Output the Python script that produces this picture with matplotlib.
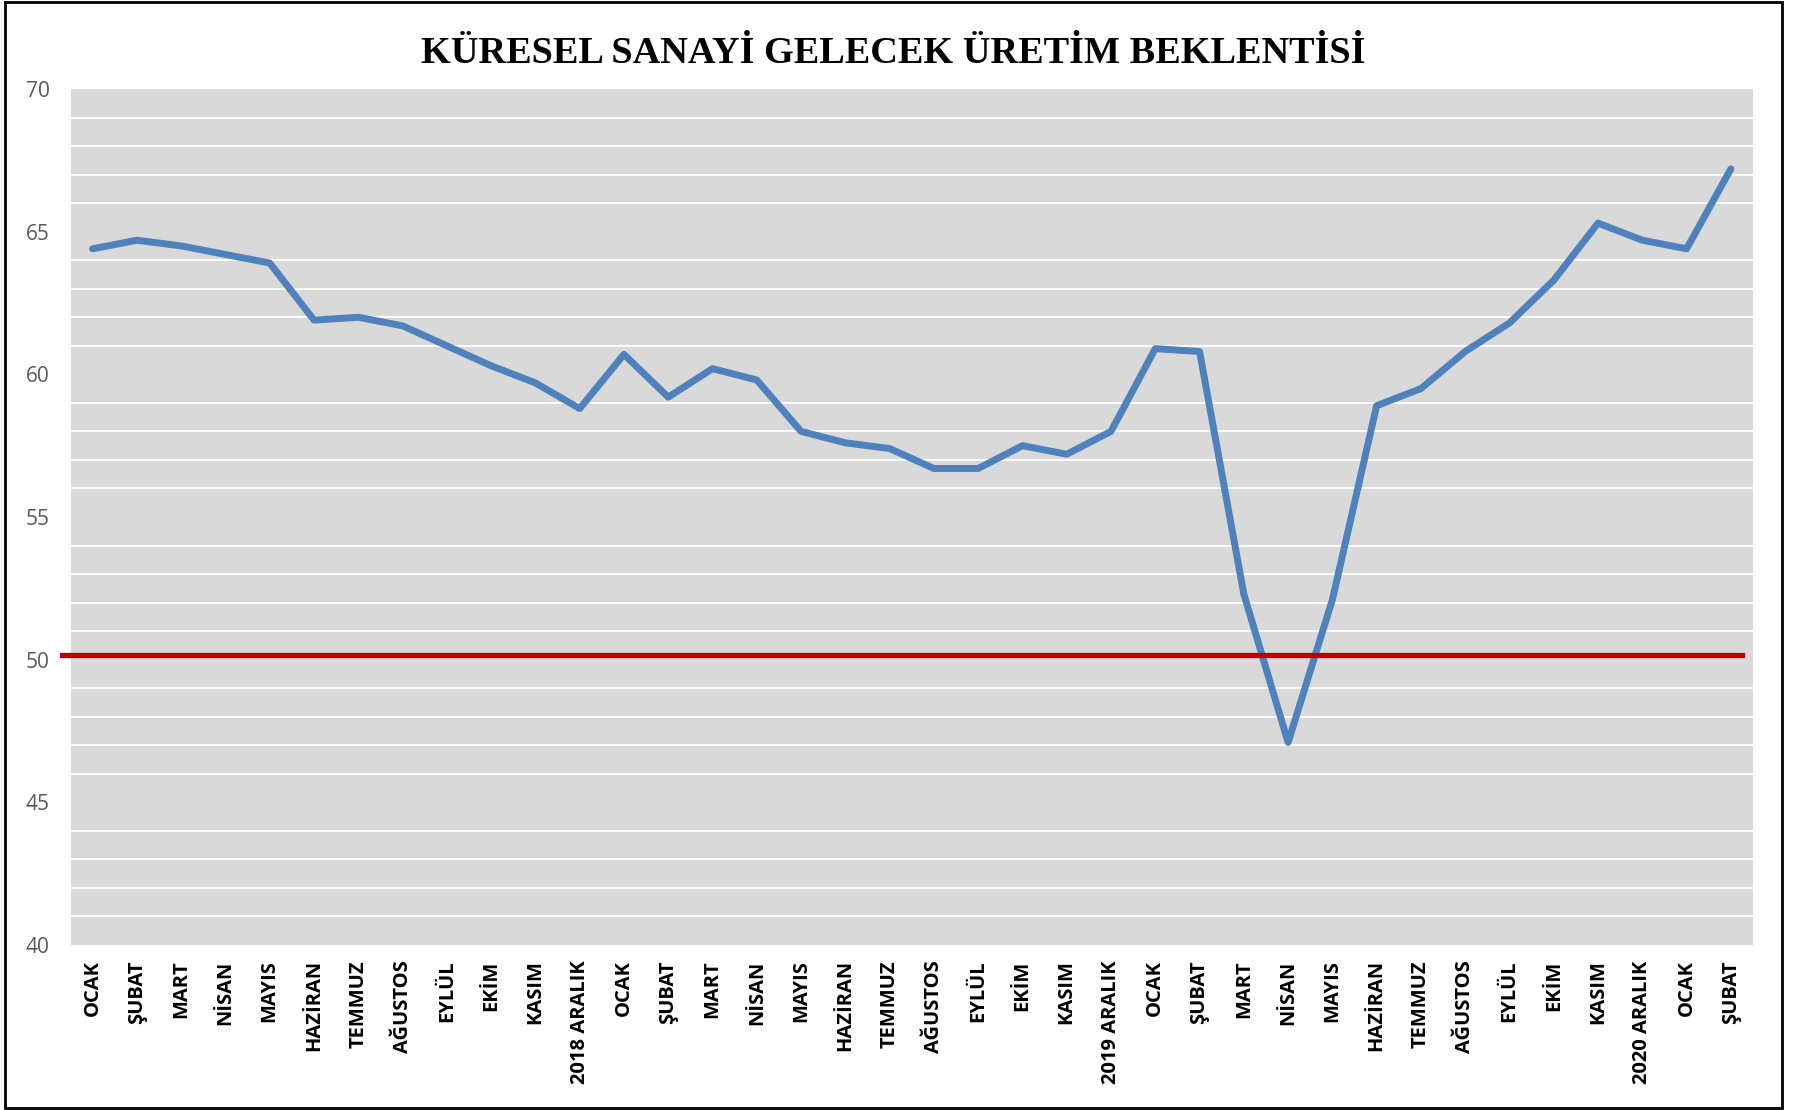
import matplotlib
matplotlib.use("Agg")
import matplotlib.pyplot as plt
from matplotlib.patches import Rectangle

title = "KÜRESEL SANAYİ GELECEK ÜRETİM BEKLENTİSİ"

months = ["OCAK", "ŞUBAT", "MART", "NİSAN", "MAYIS", "HAZİRAN", "TEMMUZ",
          "AĞUSTOS", "EYLÜL", "EKİM", "KASIM", "2018 ARALIK",
          "OCAK", "ŞUBAT", "MART", "NİSAN", "MAYIS", "HAZİRAN", "TEMMUZ",
          "AĞUSTOS", "EYLÜL", "EKİM", "KASIM", "2019 ARALIK",
          "OCAK", "ŞUBAT", "MART", "NİSAN", "MAYIS", "HAZİRAN", "TEMMUZ",
          "AĞUSTOS", "EYLÜL", "EKİM", "KASIM", "2020 ARALIK",
          "OCAK", "ŞUBAT"]

values = [64.4, 64.7, 64.5, 64.2, 63.9, 61.9, 62.0, 61.7, 61.0, 60.3, 59.7, 58.8,
          60.7, 59.2, 60.2, 59.8, 58.0, 57.6, 57.4, 56.7, 56.7, 57.5, 57.2, 58.0,
          60.9, 60.8, 52.3, 47.1, 52.1, 58.9, 59.5, 60.8, 61.8, 63.3, 65.3, 64.7,
          64.4, 67.2]

threshold = 50.15
y_ticks = [40, 45, 50, 55, 60, 65, 70]

W, H = 1793, 1110
fig = plt.figure(figsize=(W / 100, H / 100), dpi=100)
fig.patch.set_facecolor("white")

ax = fig.add_axes([70.5 / W, 1 - 945 / H, (1753 - 70.5) / W, (945 - 89) / H])
ax.set_facecolor("#d9d9d9")
for s in ax.spines.values():
    s.set_visible(False)

x = list(range(len(values)))
ax.set_xlim(-0.5, len(values) - 0.5)
ax.set_ylim(y_ticks[0], y_ticks[-1])

minor = [v for v in range(y_ticks[0] + 1, y_ticks[-1]) if v % 5 != 0]
ax.set_yticks(minor, minor=True)
ax.grid(which="minor", axis="y", color="white", linewidth=1.3)
ax.grid(which="major", visible=False)
ax.set_axisbelow(True)

ax.set_yticks(y_ticks)
ax.set_yticklabels([str(v) for v in y_ticks], fontfamily="Open Sans", fontsize=15,
                   fontstretch="normal", color="#595959")
ax.tick_params(axis="y", which="both", length=0, pad=15)

ax.set_xticks(x)
ax.set_xticklabels(months, rotation=90, fontfamily="Open Sans", fontweight="bold",
                   fontstretch="normal", fontsize=14.5, color="black", va="top", ha="center")
ax.tick_params(axis="x", length=0, pad=11)

ax.plot(x, values, color="#4f81bd", linewidth=5, solid_capstyle="round",
        solid_joinstyle="round", zorder=3)

ax.axhline(threshold, xmin=(62 - 70.5) / (1753 - 70.5), xmax=(1742 - 70.5) / (1753 - 70.5),
           color="#c00000", linewidth=3.8, clip_on=False, zorder=4)

fig.text(893.5 / W, 1 - 63 / H, title, ha="center", va="baseline",
         fontfamily="Liberation Serif", fontweight="bold", fontsize=27.5, color="black")

fig.add_artist(Rectangle((5 / W, 2 / H), (1782 - 5) / W, (1108 - 2) / H,
                         transform=fig.transFigure, fill=False,
                         edgecolor="black", linewidth=2))

fig.savefig("out.png", dpi=100)
